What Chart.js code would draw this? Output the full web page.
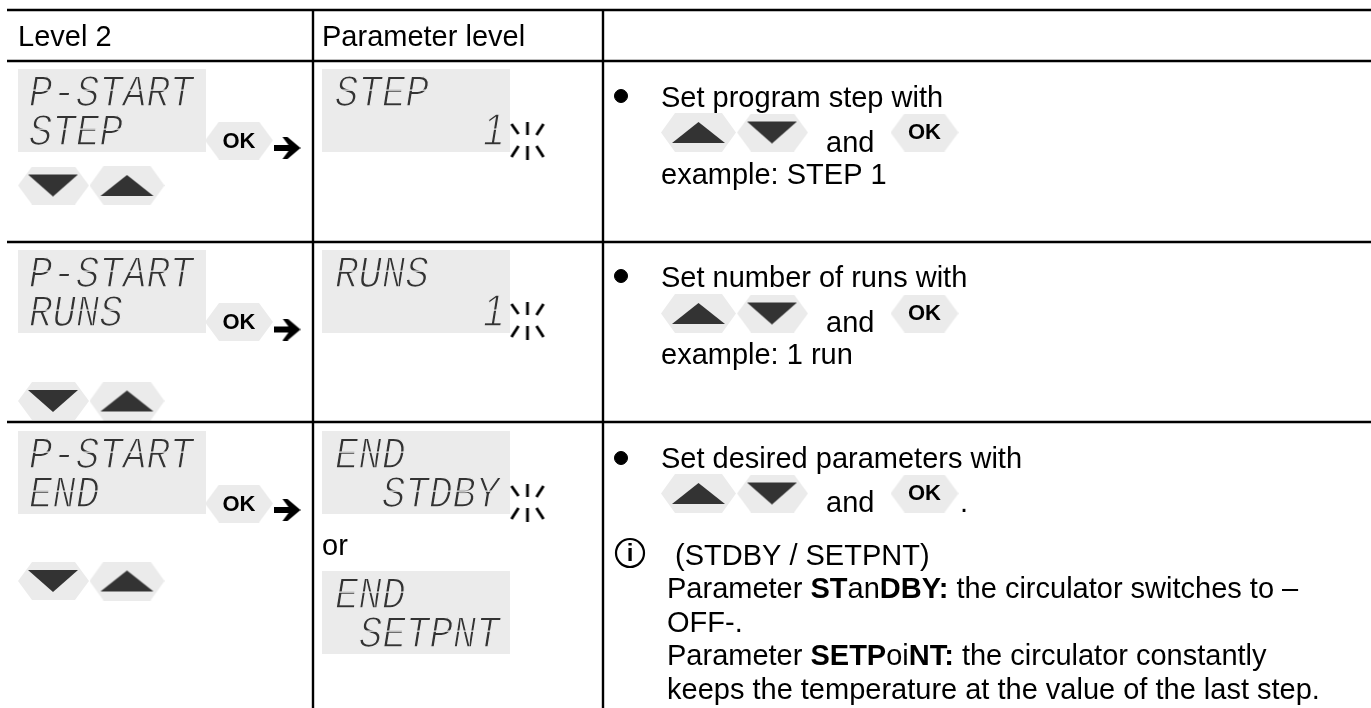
<!DOCTYPE html>
<html>
<head>
<meta charset="utf-8">
<title>Program start</title>
<script src="https://cdn.jsdelivr.net/npm/chart.js@4"></script>
<style>
  html, body { margin: 0; padding: 0; background: #fff; overflow: hidden; }
  canvas { display: block; }
</style>
</head>
<body>
<canvas id="chart" width="1371" height="708"></canvas>
<script>
// table rules, in page units of the two hidden axes
const ruleRows = [10, 61, 242, 422];
const ruleColumns = [313, 603];

// display panels
const panelX = [111.5, 111.5, 111.5, 416, 416, 416, 416];
const panelY = [110.5, 291.5, 472.5, 110.5, 291.5, 472.5, 612.5];

// display text
const lcdText = ["P-START", "STEP", "P-START", "RUNS", "P-START", "END", "STEP", "1", "RUNS", "1", "END", "STDBY", "END", "SETPNT"];
const lcdX = [27, 27, 27, 27, 27, 27, 333, 481, 333, 481, 333, 380, 333, 357];
const lcdY = [106, 145, 287, 326, 468, 507, 106, 145, 287, 326, 468, 507, 608, 647];

// keys of the first column
const okKeyX = [239, 239, 239];
const okKeyY = [140.5, 322, 503.5];
const arrowX = [287, 287, 287];
const arrowY = [148, 329.5, 510];
const blinkX = [527.5, 527.5, 527.5];
const blinkY = [141, 321, 503];
const downKeyX = [53.5, 53.5, 53.5];
const upKeyX = [127, 127, 127];
const navKeyY = [185.5, 401, 581];

// keys inside the instructions
const noteUpX = [698.5, 698.5, 698.5];
const noteDownX = [772.5, 772.5, 772.5];
const noteOkX = [924.5, 924.5, 924.5];
const noteKeyY = [132.5, 313.5, 493.5];
const bulletX = [621, 621, 621];
const bulletY = [96, 276, 458];
const infoX = [630];
const infoY = [553];

// plain text
const headers = ["Level 2", "Parameter level"];
const headerX = [18, 322];
const headerY = [46, 46];
const notes = [
  ["Set program step with"], ["and"], ["example: STEP 1"],
  ["Set number of runs with"], ["and"], ["example: 1 run"],
  ["Set desired parameters with"], ["and"], ["."], ["or"],
  ["(STDBY / SETPNT)"],
  ["Parameter ", "ST", "an", "DBY:", " the circulator switches to –"],
  ["OFF-."],
  ["Parameter ", "SETP", "oi", "NT:", " the circulator constantly"],
  ["keeps the temperature at the value of the last step."]
];
const noteX = [661, 826, 661, 661, 826, 661, 661, 826, 960, 322, 675, 667, 667, 667, 667];
const noteY = [107, 152, 184, 287, 332, 364, 468, 512, 512, 555, 565, 598, 632, 665, 699];

const sprite = (w, h, draw) => {
  const c = document.createElement("canvas");
  c.width = w;
  c.height = h;
  draw(c.getContext("2d"), w, h);
  return c;
};

const hexagon = (ctx, w, h) => {
  ctx.fillStyle = "#ebebeb";
  ctx.beginPath();
  ctx.moveTo(0, h / 2);
  ctx.lineTo(14, 0);
  ctx.lineTo(w - 14, 0);
  ctx.lineTo(w, h / 2);
  ctx.lineTo(w - 14, h);
  ctx.lineTo(14, h);
  ctx.closePath();
  ctx.fill();
};

const triangle = (ctx, pts) => {
  ctx.fillStyle = "#333";
  ctx.beginPath();
  pts.forEach((p, i) => (i ? ctx.lineTo(p[0], p[1]) : ctx.moveTo(p[0], p[1])));
  ctx.closePath();
  ctx.fill();
};

const panelSprite = sprite(188, 83, (ctx, w, h) => {
  ctx.fillStyle = "#ebebeb";
  ctx.fillRect(0, 0, w, h);
});
const okSprite = sprite(68, 38, hexagon);
const upSprite = sprite(75, 39, (ctx, w, h) => {
  hexagon(ctx, w, h);
  triangle(ctx, [[11, 30], [37.5, 9], [64, 30]]);
});
const downSprite = sprite(71, 38, (ctx, w, h) => {
  hexagon(ctx, w, h);
  triangle(ctx, [[10, 8], [60, 8], [35, 30]]);
});
const arrowSprite = sprite(27, 22, (ctx) => {
  ctx.fillStyle = "#000";
  ctx.beginPath();
  ctx.moveTo(0, 8);
  ctx.lineTo(15, 8);
  ctx.lineTo(9, 0);
  ctx.lineTo(14, 0);
  ctx.lineTo(27, 11);
  ctx.lineTo(14, 22);
  ctx.lineTo(9, 22);
  ctx.lineTo(15, 14);
  ctx.lineTo(0, 14);
  ctx.closePath();
  ctx.fill();
});
const blinkSprite = sprite(36, 38, (ctx) => {
  ctx.strokeStyle = "#000";
  ctx.lineWidth = 2.8;
  [[2, 2, 9, 12], [18, 0, 18, 13], [34, 2, 27, 13], [2, 35, 9, 24], [18, 24, 18, 38], [34, 35, 27, 24]].forEach((s) => {
    ctx.beginPath();
    ctx.moveTo(s[0], s[1]);
    ctx.lineTo(s[2], s[3]);
    ctx.stroke();
  });
});

const pairs = (xs, ys) => xs.map((x, i) => ({ x: x, y: ys[i] }));

const markers = (xs, ys, style) => ({
  data: pairs(xs, ys),
  showLine: false,
  pointStyle: style,
  pointRadius: 10,
  pointHoverRadius: 10
});

const ruleSets = [
  ...ruleRows.map((y) => ({ data: [{ x: 7, y: y }, { x: 1371, y: y }], showLine: true, borderColor: "#000", borderWidth: 2.4, pointRadius: 0 })),
  ...ruleColumns.map((x) => ({ data: [{ x: x, y: 10 }, { x: x, y: 708 }], showLine: true, borderColor: "#000", borderWidth: 2.4, pointRadius: 0 }))
];

const textPlugin = {
  id: "tableText",
  afterDatasetsDraw(chart) {
    const ctx = chart.ctx;
    const px = (v) => chart.scales.x.getPixelForValue(v);
    const py = (v) => chart.scales.y.getPixelForValue(v);
    ctx.save();
    ctx.textBaseline = "alphabetic";
    ctx.fillStyle = "#000";

    ctx.font = "29px 'Liberation Sans'";
    headers.forEach((t, i) => ctx.fillText(t, px(headerX[i]), py(headerY[i])));

    notes.forEach((runs, i) => {
      let x = px(noteX[i]);
      runs.forEach((t, k) => {
        ctx.font = (k % 2 ? "bold " : "") + "29px 'Liberation Sans'";
        ctx.fillText(t, x, py(noteY[i]));
        x += ctx.measureText(t).width;
      });
    });

    ctx.textAlign = "center";
    ctx.textBaseline = "middle";
    ctx.font = "bold 24px 'Liberation Sans'";
    infoX.forEach((x, i) => ctx.fillText("i", px(x), py(infoY[i]) + 1));

    ctx.font = "bold 22px 'Liberation Sans'";
    okKeyX.forEach((x, i) => ctx.fillText("OK", px(x), py(okKeyY[i]) + 1));
    noteOkX.forEach((x, i) => ctx.fillText("OK", px(x), py(noteKeyY[i])));
    ctx.restore();

    // display text: condensed, slanted, thinned with a panel coloured outline and cut at mid height
    lcdText.forEach((t, i) => {
      ctx.save();
      ctx.transform(0.87, 0, -0.16, 1, px(lcdX[i]), py(lcdY[i]));
      ctx.font = t.length === 1 ? "45px 'Liberation Sans'" : "45px 'Liberation Mono'";
      ctx.textBaseline = "alphabetic";
      ctx.fillStyle = "#333";
      ctx.fillText(t, 0, 0);
      ctx.strokeStyle = "#ebebeb";
      ctx.lineWidth = 1.4;
      ctx.strokeText(t, 0, 0);
      ctx.fillStyle = "#ebebeb";
      ctx.fillRect(-6, -16.6, ctx.measureText(t).width + 12, 1.4);
      ctx.restore();
    });
  }
};

const config = {
  type: "scatter",
  data: {
    datasets: [
      ...ruleSets,
      markers(panelX, panelY, panelSprite),
      markers(okKeyX, okKeyY, okSprite),
      markers(noteOkX, noteKeyY, okSprite),
      markers(arrowX, arrowY, arrowSprite),
      markers(blinkX, blinkY, blinkSprite),
      markers(downKeyX, navKeyY, downSprite),
      markers(upKeyX, navKeyY, upSprite),
      markers(noteUpX, noteKeyY, upSprite),
      markers(noteDownX, noteKeyY, downSprite),
      {
        data: pairs(bulletX, bulletY),
        showLine: false,
        pointStyle: "circle",
        pointRadius: 6.5,
        backgroundColor: "#000",
        borderColor: "#000"
      },
      {
        data: pairs(infoX, infoY),
        showLine: false,
        pointStyle: "circle",
        pointRadius: 14,
        backgroundColor: "#fff",
        borderColor: "#000",
        borderWidth: 2.2
      }
    ]
  },
  options: {
    responsive: false,
    animation: false,
    layout: { padding: 0, autoPadding: false },
    plugins: { legend: { display: false }, tooltip: { enabled: false } },
    scales: {
      x: { type: "linear", min: 0, max: 1371, display: false },
      y: { type: "linear", min: 0, max: 708, reverse: true, display: false }
    }
  },
  plugins: [textPlugin]
};

new Chart("chart", config);
</script>
</body>
</html>
